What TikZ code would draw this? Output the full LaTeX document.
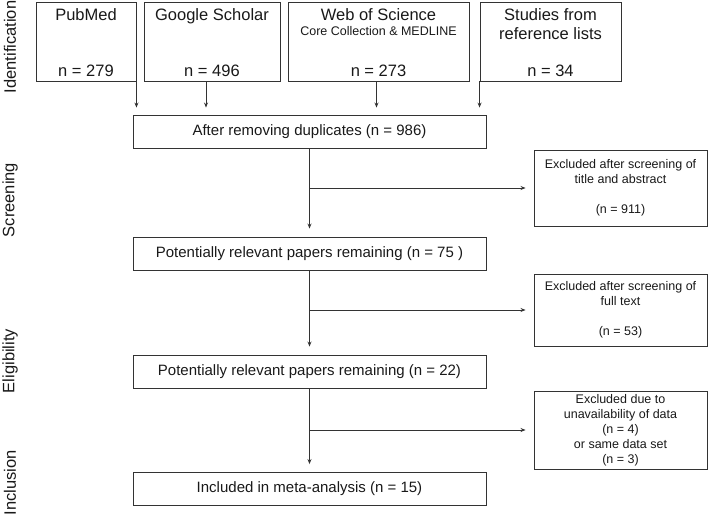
\documentclass[tikz,border=0pt]{standalone}
\usepackage{fontspec}
\setmainfont{Liberation Sans}
\usetikzlibrary{arrows.meta}

\begin{document}
\begin{tikzpicture}[x=1pt, y=-1pt,
  every node/.style={inner sep=0pt, text=black!90},
  srcbox/.style={draw=black!80, line width=0.9pt, minimum height=79pt},
  srctext/.style={font=\fontsize{16.5}{19.5}\selectfont, align=center},
  mainbox/.style={draw=black!80, line width=0.9pt, minimum width=353pt, minimum height=33pt,
    font=\fontsize{15}{18}\selectfont},
  exbox/.style={draw=black!80, line width=0.9pt, minimum width=173pt, align=center,
    font=\fontsize{12.5}{15}\selectfont},
  stage/.style={rotate=90, font=\fontsize{16.5}{18}\selectfont},
  flow/.style={-{Stealth[length=5pt, width=4pt]}, line width=0.9pt, draw=black!80, shorten >=8pt}]

  \useasboundingbox (0,0) rectangle (708,519);

  %% Left: stage labels
  \node[stage] (lid)  at (10,47)  {Identification};
  \node[stage] (lscr) at (10,200) {Screening};
  \node[stage] (lelg) at (10,361) {Eligibility};
  \node[stage] (linc) at (10,483) {Inclusion};

  %% Top: sources
  \node[srcbox, minimum width=100pt] (pub) at (86,41.5)    {};
  \node[srcbox, minimum width=136pt] (gs)  at (212,41.5)   {};
  \node[srcbox, minimum width=181pt] (wos) at (378.5,41.5) {};
  \node[srcbox, minimum width=141pt] (ref) at (550.5,41.5) {};

  \node[srctext, anchor=base] (pubt) at (86,21)    {PubMed};
  \node[srctext, anchor=base] (gst)  at (212,21)   {Google Scholar};
  \node[srctext, anchor=base] (wost) at (378.5,21) {Web of Science};
  \node[font=\fontsize{12.5}{14}\selectfont, anchor=base] (wosc) at (378.5,36) {Core Collection \& MEDLINE};
  \node[srctext, anchor=north] (reft) at (550.5,8) {Studies from\\reference lists};

  \node[srctext, anchor=base] (pubn) at (86,76)    {n = 279};
  \node[srctext, anchor=base] (gsn)  at (212,76)   {n = 496};
  \node[srctext, anchor=base] (wosn) at (378.5,76) {n = 273};
  \node[srctext, anchor=base] (refn) at (550.5,76) {n = 34};

  %% Centre: main flow
  \node[mainbox] (dup)  at (309.5,131.5) {After removing duplicates (n = 986)};
  \node[mainbox] (rem1) at (309.5,253.5) {Potentially relevant papers remaining (n = 75 )};
  \node[mainbox] (rem2) at (309.5,371.5) {Potentially relevant papers remaining (n = 22)};
  \node[mainbox] (incl) at (309.5,489)   {Included in meta-analysis (n = 15)};

  %% Right: exclusions
  \node[exbox, minimum height=76pt] (ex1) at (620.5,188)
    {Excluded after screening of\\title and abstract\\[15pt](n = 911)};
  \node[exbox, minimum height=72pt] (ex2) at (620.5,310)
    {Excluded after screening of\\full text\\[15pt](n = 53)};
  \node[exbox, minimum height=78pt] (ex3) at (620.5,430)
    {Excluded due to\\unavailability of data\\(n = 4)\\or same data set\\(n = 3)};

  % sources into duplicates box
  \draw[flow, shorten >=7pt] (pub.south east) -- (pub.south east |- dup.north);
  \draw[flow, shorten >=7pt] ([xshift=-6pt]gs.south) -- ([xshift=-6pt]gs.south |- dup.north);
  \draw[flow, shorten >=7pt] ([xshift=-2pt]wos.south) -- ([xshift=-2pt]wos.south |- dup.north);
  \draw[flow, shorten >=7pt] (ref.south west) -- (ref.south west |- dup.north);

  % down the centre
  \draw[flow] (dup.south)  -- (rem1.north);
  \draw[flow] (rem1.south) -- (rem2.north);
  \draw[flow] (rem2.south) -- (incl.north);

  % branches to the right
  \coordinate (b1) at (dup.south |- ex1.west);
  \coordinate (b2) at (rem1.south |- ex2.west);
  \coordinate (b3) at (rem2.south |- ex3.west);
  \draw[flow] (b1) -- (ex1.west);
  \draw[flow] (b2) -- (ex2.west);
  \draw[flow] (b3) -- (ex3.west);

\end{tikzpicture}
\end{document}
